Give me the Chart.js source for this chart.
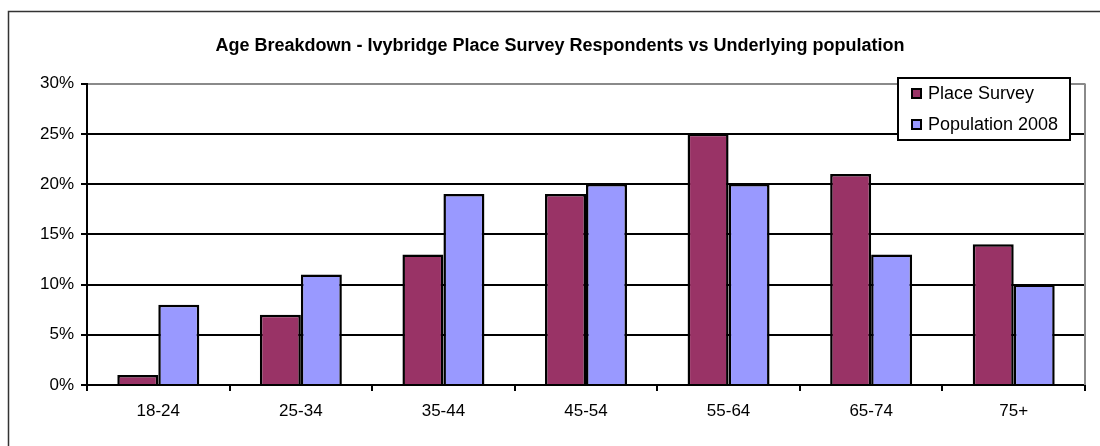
<!DOCTYPE html>
<html>
<head>
<meta charset="utf-8">
<script src="https://cdn.jsdelivr.net/npm/chart.js@4/dist/chart.umd.min.js"></script>
<style>
  html, body { margin: 0; padding: 0; background: #fff; }
  #wrap { width: 1100px; height: 446px; position: relative; }
</style>
</head>
<body>
<div id="wrap"><canvas id="chart"></canvas></div>
<script>
const categories = ['18-24', '25-34', '35-44', '45-54', '55-64', '65-74', '75+'];
const placeSurvey = [1, 7, 13, 19, 25, 21, 14];
const population2008 = [8, 11, 19, 20, 20, 13, 10];
const seriesNames = ['Place Survey', 'Population 2008'];
const seriesColors = ['#993366', '#9999ff'];

const FONT = '"Liberation Sans", Arial, sans-serif';

// frame around the whole chart, the grey right edge of the plot and the boxed legend
const decorations = {
    id: 'decorations',
    beforeDraw(chart) {
        const ctx = chart.ctx;
        ctx.save();
        ctx.strokeStyle = '#333';
        ctx.lineWidth = 1.5;
        ctx.beginPath();
        ctx.moveTo(8.5, 460);
        ctx.lineTo(8.5, 11.5);
        ctx.lineTo(1110, 11.5);
        ctx.stroke();
        ctx.restore();
    },
    afterDraw(chart) {
        const ctx = chart.ctx;
        const area = chart.chartArea;
        ctx.save();
        ctx.strokeStyle = '#8a8a8a';
        ctx.lineWidth = 2;
        ctx.beginPath();
        ctx.moveTo(area.right, area.top);
        ctx.lineTo(area.right, area.bottom);
        ctx.stroke();

        // legend
        const lx = 898, ly = 78, lw = 172, lh = 62;
        ctx.fillStyle = '#fff';
        ctx.fillRect(lx, ly, lw, lh);
        ctx.strokeStyle = '#000';
        ctx.lineWidth = 2;
        ctx.strokeRect(lx, ly, lw, lh);
        ctx.font = '18px ' + FONT;
        ctx.textBaseline = 'middle';
        chart.data.datasets.forEach((ds, i) => {
            const y = ly + 16 + i * 31;
            ctx.fillStyle = ds.backgroundColor;
            ctx.fillRect(lx + 14, y - 5, 9, 9);
            ctx.lineWidth = 2;
            ctx.strokeRect(lx + 14, y - 5, 9, 9);
            ctx.fillStyle = '#000';
            ctx.fillText(ds.label, lx + 30, y);
        });
        ctx.restore();
    }
};

new Chart(document.getElementById('chart'), {
    type: 'bar',
    data: {
        labels: categories,
        datasets: [placeSurvey, population2008].map((values, i) => ({
            label: seriesNames[i],
            data: values,
            backgroundColor: seriesColors[i],
            borderColor: '#000',
            borderWidth: 2.5,
            borderSkipped: 'bottom',
            barPercentage: 1,
            categoryPercentage: 0.575
        }))
    },
    options: {
        responsive: true,
        maintainAspectRatio: false,
        animation: false,
        layout: { padding: { top: 0, left: 35, right: 15, bottom: 0 } },
        scales: {
            x: {
                afterFit: scale => { scale.height = 61; },
                grid: {
                    offset: true,
                    drawOnChartArea: false,
                    drawTicks: true,
                    tickLength: 6,
                    color: '#000',
                    lineWidth: 2
                },
                border: { color: '#000', width: 2 },
                ticks: { color: '#000', font: { family: FONT, size: 17 }, padding: 10 }
            },
            y: {
                min: 0,
                max: 30,
                afterFit: scale => { scale.width = 52; },
                grid: {
                    color: ctx => ctx.tick && ctx.tick.value === 30 ? '#8a8a8a' : '#000',
                    lineWidth: 2,
                    drawTicks: true,
                    tickLength: 6,
                    tickColor: '#000'
                },
                border: { color: '#000', width: 2 },
                ticks: {
                    stepSize: 5,
                    color: '#000',
                    padding: 7,
                    font: { family: FONT, size: 17 },
                    callback: value => value + '%'
                }
            }
        },
        plugins: {
            legend: { display: false },
            tooltip: { enabled: false },
            title: {
                display: true,
                text: 'Age Breakdown - Ivybridge Place Survey Respondents vs Underlying population',
                color: '#000',
                font: { family: FONT, size: 18, weight: 'bold' },
                padding: { top: 35, bottom: 27 }
            }
        }
    },
    plugins: [decorations]
});
</script>
</body>
</html>
